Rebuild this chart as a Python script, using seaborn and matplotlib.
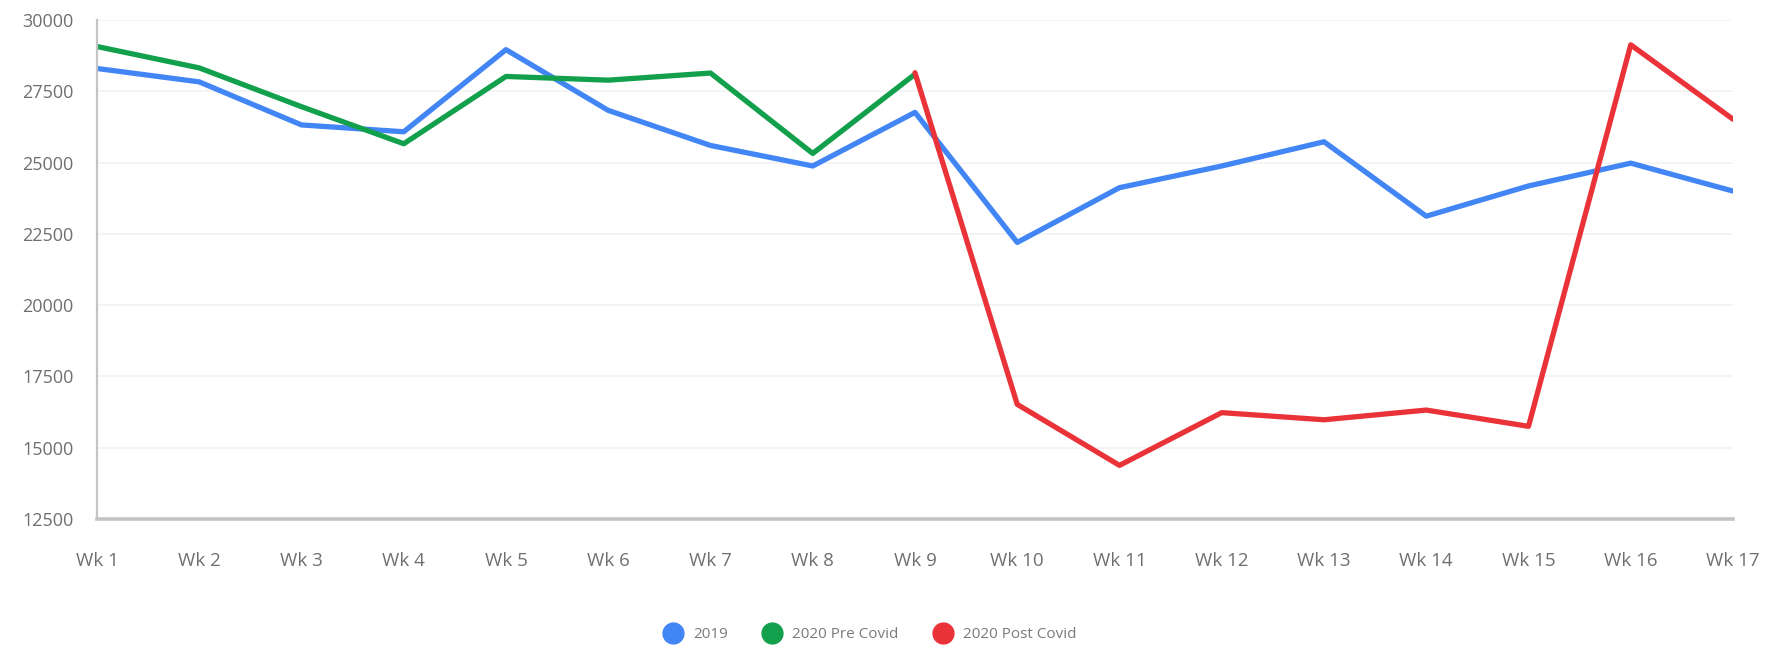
import numpy as np
import pandas as pd
import matplotlib
matplotlib.use("Agg")
import matplotlib.pyplot as plt
from matplotlib.lines import Line2D
import seaborn as sns

# data
weeks = [f"Wk {i}" for i in range(1, 18)]
sales_2019 = [28300, 27830, 26320, 26080, 28960, 26830, 25600, 24880, 26760,
              22200, 24120, 24880, 25730, 23120, 24180, 24980, 24000]
weeks_pre = weeks[:9]
sales_pre = [29070, 28320, 26960, 25660, 28020, 27890, 28140, 25320, 28100]
weeks_post = weeks[8:]
sales_post = [28150, 16520, 14380, 16230, 15980, 16320, 15750, 29130, 26520]

series_names = ["2019", "2020 Pre Covid", "2020 Post Covid"]
colors = ["#4285f4", "#12a04c", "#ea3339"]

df = pd.concat([
    pd.DataFrame({"week": weeks, "sales": sales_2019, "series": series_names[0]}),
    pd.DataFrame({"week": weeks_pre, "sales": sales_pre, "series": series_names[1]}),
    pd.DataFrame({"week": weeks_post, "sales": sales_post, "series": series_names[2]}),
])
df["x"] = df["week"].map({w: i for i, w in enumerate(weeks)})

sns.set_theme(style="white")
plt.rcParams['font.family'] = ['Open Sans', 'DejaVu Sans']

fig = plt.figure(figsize=(17.69, 6.52), dpi=100)
ax = fig.add_axes([97 / 1769, 1 - 519 / 652, (1733 - 97) / 1769, (519 - 20) / 652])

sns.lineplot(data=df, x="x", y="sales", hue="series", hue_order=series_names,
             palette=colors, linewidth=3.8, ax=ax, legend=False, sort=False)

ax.set_xlim(0, 16)
ax.set_ylim(12500, 30000)
ax.set_xticks(range(len(weeks)))
ax.set_xticklabels(weeks)
ax.set_yticks(np.arange(12500, 30001, 2500))
ax.set_xlabel("")
ax.set_ylabel("")
ax.tick_params(axis="both", length=0, labelsize=13, colors="#6f6f6f")
ax.tick_params(axis="x", pad=24, labelsize=13.5)
ax.tick_params(axis="y", pad=17)
ax.yaxis.grid(True, color="#f2f2f2", linewidth=1.2)
ax.set_axisbelow(True)
for s in ["top", "right"]:
    ax.spines[s].set_visible(False)
ax.spines["left"].set_color("#c4c4c4")
ax.spines["left"].set_linewidth(1.6)
ax.spines["bottom"].set_color("#c4c4c4")
ax.spines["bottom"].set_linewidth(2.6)

handles = [Line2D([], [], linestyle="none", marker="o", markersize=15,
                  markerfacecolor=c, markeredgecolor=c) for c in colors]
fig.legend(handles, series_names, loc="center", bbox_to_anchor=(871 / 1769, 1 - 635 / 652),
           ncol=3, frameon=False, fontsize=11, labelcolor="#7a7a7a",
           handletextpad=0.8, columnspacing=2.4, handlelength=1.0)

fig.savefig("out.png", dpi=100)
